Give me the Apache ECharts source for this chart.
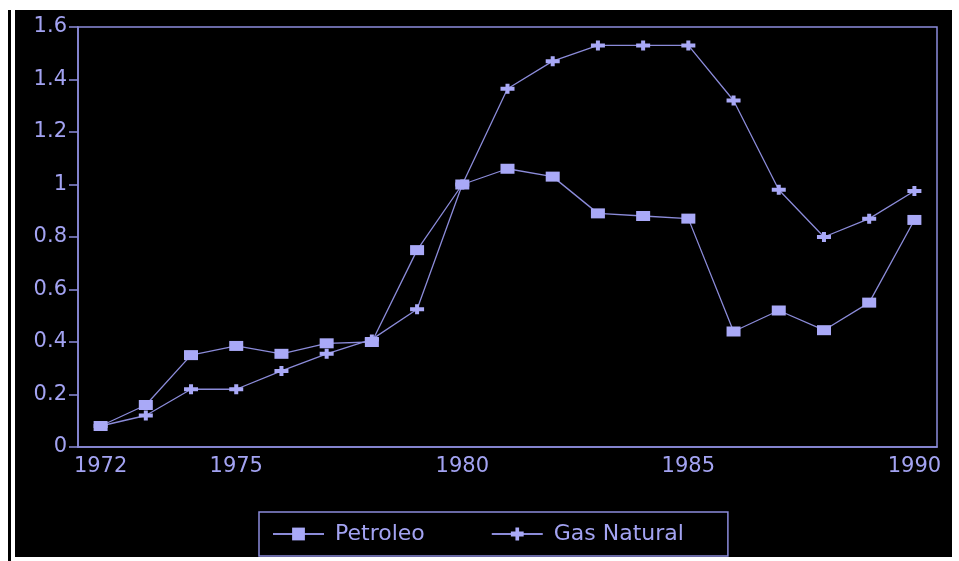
<!DOCTYPE html>
<html><head><meta charset="utf-8">
<script src="https://cdn.jsdelivr.net/npm/echarts@6/dist/echarts.min.js"></script>
<style>
html,body{margin:0;padding:0;background:#fff;width:959px;height:561px;overflow:hidden;position:relative}
#c{position:absolute;left:15px;top:10px;width:937px;height:547px;background:#000}
#edge{position:absolute;left:8px;top:10px;width:3px;height:551px;background:#000}
</style></head>
<body>
<div id="edge"></div>
<div id="c"></div>
<script>
const years = ['1972','1973','1974','1975','1976','1977','1978','1979','1980','1981','1982','1983','1984','1985','1986','1987','1988','1989','1990'];
const labeledYears = ['1972','1975','1980','1985','1990'];
const petroleo = [0.08,0.16,0.35,0.385,0.355,0.395,0.40,0.75,1.0,1.06,1.03,0.89,0.88,0.87,0.44,0.52,0.445,0.55,0.865];
const gasNatural = [0.08,0.12,0.22,0.22,0.29,0.355,0.41,0.525,1.0,1.365,1.47,1.53,1.53,1.53,1.32,0.98,0.80,0.87,0.975];

const txt = '#a3a3f2', axisC = '#8c8cdc', lineC = '#8b8bd9', markC = '#a9a9f7';
const font = 'DejaVu Sans';
const plus = 'path://M0,3H5V0H9V3H14V7H9V10H5V7H0Z';
const chart = echarts.init(document.getElementById('c'));
chart.setOption({
  backgroundColor: '#000',
  animation: false,
  grid: {left: 63, top: 17, width: 859, height: 420, show: true, borderColor: axisC, borderWidth: 1.5, backgroundColor: 'transparent'},
  xAxis: {
    type: 'category', data: years, boundaryGap: true,
    axisLine: {lineStyle: {color: axisC, width: 1.5}},
    axisTick: {alignWithLabel: true, interval: 0, length: 7, lineStyle: {color: axisC, width: 1.5}},
    axisLabel: {color: txt, fontFamily: font, fontSize: 21, margin: 9,
      interval: (i, v) => labeledYears.includes(v)},
    splitLine: {show: false}
  },
  yAxis: {
    type: 'value', min: 0, max: 1.6, interval: 0.2,
    axisLine: {show: true, lineStyle: {color: axisC, width: 1.5}},
    axisTick: {show: true, length: 9, lineStyle: {color: axisC, width: 1.5}},
    axisLabel: {color: txt, fontFamily: font, fontSize: 21, margin: 11},
    splitLine: {show: false}
  },
  legend: {
    left: 244, top: 502, orient: 'horizontal',
    padding: [11, 44, 11, 13], itemGap: 66, itemWidth: 51, itemHeight: 16,
    borderColor: axisC, borderWidth: 1.5,
    textStyle: {color: txt, fontFamily: font, fontSize: 22, padding: [0, 0, 0, 6]},
    data: ['Petroleo', 'Gas Natural']
  },
  series: [
    {name: 'Petroleo', type: 'line', data: petroleo, symbol: 'rect', symbolSize: [14, 10],
      lineStyle: {color: lineC, width: 1.3}, itemStyle: {color: markC, borderWidth: 0}},
    {name: 'Gas Natural', type: 'line', data: gasNatural, symbol: plus, symbolSize: [14, 10],
      lineStyle: {color: lineC, width: 1.3}, itemStyle: {color: markC, borderWidth: 0}}
  ]
});
</script>
</body></html>
